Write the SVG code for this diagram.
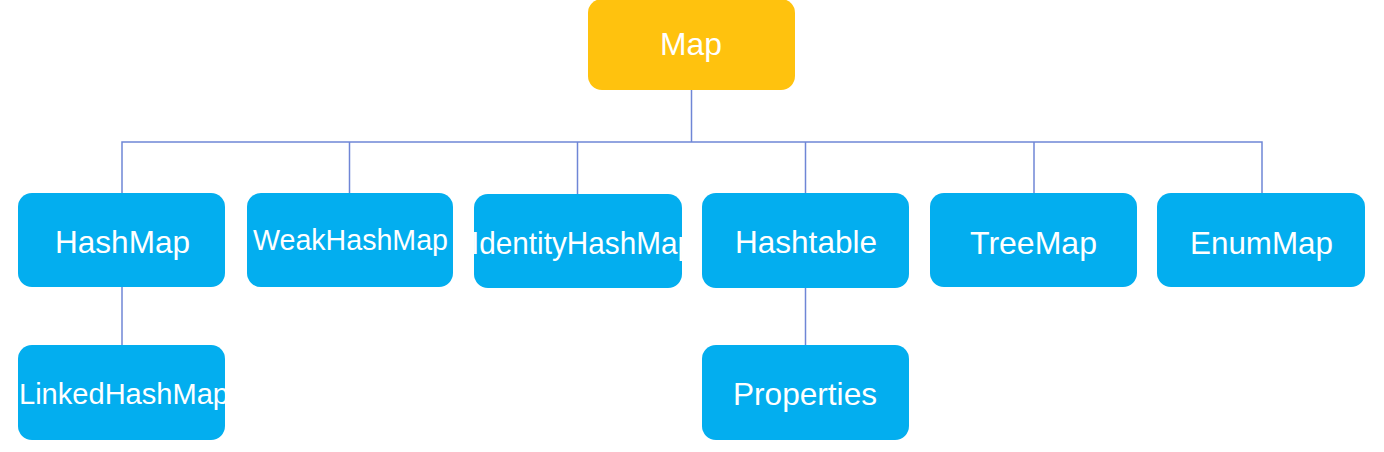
<svg xmlns="http://www.w3.org/2000/svg" width="1384" height="452" viewBox="0 0 1384 452">
<style>
.box{fill:#03AEEF}
.root{fill:#FFC20E}
.lbl{font-family:"Liberation Sans",Arial,sans-serif;fill:#FFFFFF;font-size:32px}
.sm{font-size:30px}
.conn{stroke:#6F86D6;stroke-width:1.5;fill:none}
</style>
<defs>
<clipPath id="clipId"><rect x="474" y="194" width="208" height="94" rx="14"/></clipPath>
<clipPath id="clipLinked"><rect x="18" y="345" width="207" height="95" rx="14"/></clipPath>
</defs>
<rect width="1384" height="452" fill="#FFFFFF"/>
<g id="connectors">
<path class="conn" d="M691.5 90 V142"/>
<path class="conn" d="M122 193 V142 H1262 V193"/>
<path class="conn" d="M349.5 142 V193"/>
<path class="conn" d="M577.5 142 V194"/>
<path class="conn" d="M805.5 142 V193"/>
<path class="conn" d="M1034 142 V193"/>
<path class="conn" d="M122 287 V345"/>
<path class="conn" d="M805.5 288 V345"/>
</g>
<g id="node-map">
<rect class="root" x="588" y="-1" width="207" height="91" rx="14"/>
<text class="lbl" x="660" y="55" textLength="62" lengthAdjust="spacingAndGlyphs">Map</text>
</g>
<g id="node-hashmap">
<rect class="box" x="18" y="193" width="207" height="94" rx="14"/>
<text class="lbl" x="55" y="253" textLength="135" lengthAdjust="spacingAndGlyphs">HashMap</text>
</g>
<g id="node-weakhashmap">
<rect class="box" x="247" y="193" width="206" height="94" rx="14"/>
<text class="lbl sm" x="253" y="250" textLength="195" lengthAdjust="spacingAndGlyphs">WeakHashMap</text>
</g>
<g id="node-identityhashmap">
<rect class="box" x="474" y="194" width="208" height="94" rx="14"/>
<text class="lbl" x="471" y="254" textLength="223" lengthAdjust="spacingAndGlyphs" clip-path="url(#clipId)">IdentityHashMap</text>
</g>
<g id="node-hashtable">
<rect class="box" x="702" y="193" width="207" height="95" rx="14"/>
<text class="lbl" x="735" y="253" textLength="142" lengthAdjust="spacingAndGlyphs">Hashtable</text>
</g>
<g id="node-treemap">
<rect class="box" x="930" y="193" width="207" height="94" rx="14"/>
<text class="lbl" x="970" y="254" textLength="127" lengthAdjust="spacingAndGlyphs">TreeMap</text>
</g>
<g id="node-enummap">
<rect class="box" x="1157" y="193" width="208" height="94" rx="14"/>
<text class="lbl" x="1190" y="254" textLength="143" lengthAdjust="spacingAndGlyphs">EnumMap</text>
</g>
<g id="node-linkedhashmap">
<rect class="box" x="18" y="345" width="207" height="95" rx="14"/>
<text class="lbl sm" x="19" y="404" textLength="210" lengthAdjust="spacingAndGlyphs" clip-path="url(#clipLinked)">LinkedHashMap</text>
</g>
<g id="node-properties">
<rect class="box" x="702" y="345" width="207" height="95" rx="14"/>
<text class="lbl" x="733" y="405" textLength="144" lengthAdjust="spacingAndGlyphs">Properties</text>
</g>
</svg>
